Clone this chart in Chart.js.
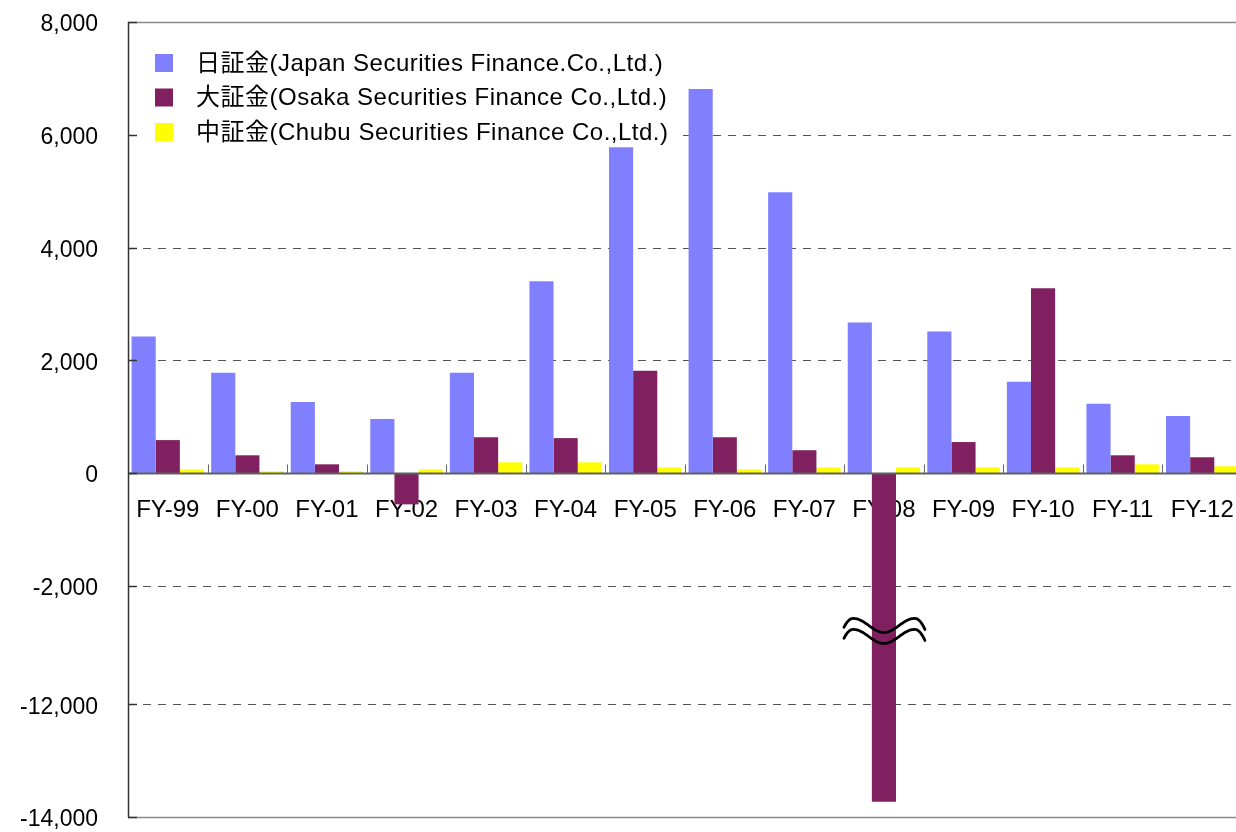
<!DOCTYPE html>
<html>
<head>
<meta charset="utf-8">
<script src="https://cdn.jsdelivr.net/npm/chart.js@4.4.1/dist/chart.umd.min.js"></script>
<style>
  html, body { margin: 0; padding: 0; background: #fff; overflow: hidden; }
  #wrap { width: 1236px; height: 832px; overflow: hidden; }
</style>
</head>
<body>
<div id="wrap"><canvas id="chart" width="1250" height="832"></canvas></div>
<script>
const categories = ['FY-99', 'FY-00', 'FY-01', 'FY-02', 'FY-03', 'FY-04', 'FY-05',
                    'FY-06', 'FY-07', 'FY-08', 'FY-09', 'FY-10', 'FY-11', 'FY-12'];
const seriesNames = [
    '日証金(Japan Securities Finance.Co.,Ltd.)',
    '大証金(Osaka Securities Finance Co.,Ltd.)',
    '中証金(Chubu Securities Finance Co.,Ltd.)'
];
const japanValues = [2420, 1780, 1260, 960, 1780, 3400, 5780, 6810, 4980, 2670, 2510, 1620, 1230, 1010];
const osakaValues = [585, 315, 155, -555, 635, 620, 1815, 635, 405, -13730, 550, 3280, 315, 280];
const chubuValues = [65, 30, 30, 65, 190, 190, 100, 65, 100, 100, 100, 100, 155, 120];
const seriesColors = ['#8080FF', '#802060', '#FFFF00'];
const yTickValues = [8000, 6000, 4000, 2000, 0, -2000, -12000, -14000];

// broken axis: everything below BREAK_AT is pulled up by BREAK_SHIFT
const BREAK_AT = -3000;
const BREAK_SHIFT = 7900;
const BREAK_MARK = -2800; // axis value where the wavy break sign sits
const toAxis = v => v < BREAK_AT ? v + BREAK_SHIFT : v;
const fromAxis = v => v < BREAK_AT ? v - BREAK_SHIFT : v;

const FONT = '"Liberation Sans", Arial, "Noto Sans CJK JP", sans-serif';

// gridlines, frame, legend and the break sign, drawn Excel-style
const excelFrame = {
    id: 'excelFrame',
    beforeDatasetsDraw(chart) {
        const {ctx, chartArea: area, scales: {y}} = chart;
        ctx.save();
        y.ticks.forEach(t => {
            const py = Math.round(y.getPixelForValue(t.value)) + 0.5;
            if (t.value === y.max || t.value === y.min) {
                ctx.strokeStyle = '#8a8a8a';
                ctx.lineWidth = 1.5;
                ctx.setLineDash([]);
            } else if (t.value === 0) {
                return;
            } else {
                ctx.strokeStyle = '#555';
                ctx.lineWidth = 1;
                ctx.setLineDash([8, 7]);
            }
            ctx.beginPath();
            ctx.moveTo(area.left, py);
            ctx.lineTo(area.right, py);
            ctx.stroke();
        });
        ctx.setLineDash([]);

        // legend box inside the plot
        const lx = area.left + 27, ly = area.top + 41;
        ctx.fillStyle = '#fff';
        ctx.fillRect(area.left + 10, area.top + 18, 542, 104);
        ctx.font = '24px ' + FONT;
        ctx.textBaseline = 'middle';
        ctx.letterSpacing = '0.5px';
        chart.data.datasets.forEach((ds, i) => {
            const cy = ly + i * 34.5;
            ctx.fillStyle = ds.backgroundColor;
            ctx.fillRect(lx, cy - 9, 18, 18);
            ctx.fillStyle = '#000';
            ctx.fillText(ds.label, lx + 41, cy + 1);
        });
        ctx.letterSpacing = '0px';
        ctx.restore();
    },
    afterDatasetsDraw(chart) {
        const {ctx, chartArea: area, scales: {x, y}} = chart;
        ctx.save();
        const zero = Math.round(y.getPixelForValue(0)) + 0.5;

        // category axis line at zero with small ticks pointing up
        ctx.strokeStyle = '#666';
        ctx.lineWidth = 1;
        const half = (x.getPixelForValue(1) - x.getPixelForValue(0)) / 2;
        categories.forEach((c, i) => {
            const px = Math.round(x.getPixelForValue(i) + half) + 0.5;
            ctx.beginPath();
            ctx.moveTo(px, zero);
            ctx.lineTo(px, zero - 9);
            ctx.stroke();
        });
        ctx.strokeStyle = '#606060';
        ctx.lineWidth = 2;
        ctx.beginPath();
        ctx.moveTo(area.left, zero);
        ctx.lineTo(area.right, zero);
        ctx.stroke();

        // value axis with inside ticks
        ctx.strokeStyle = '#333';
        ctx.lineWidth = 1.5;
        ctx.beginPath();
        ctx.moveTo(area.left + 0.5, area.top);
        ctx.lineTo(area.left + 0.5, area.bottom);
        ctx.stroke();
        y.ticks.forEach(t => {
            const py = Math.round(y.getPixelForValue(t.value)) + 0.5;
            ctx.beginPath();
            ctx.moveTo(area.left, py);
            ctx.lineTo(area.left + 9, py);
            ctx.stroke();
        });

        // wavy break sign over the broken bar, ends hooked downwards
        const idx = osakaValues.findIndex(v => v < BREAK_AT);
        if (idx >= 0) {
            const bar = chart.getDatasetMeta(1).data[idx];
            const cx = bar.x;
            const ym = y.getPixelForValue(BREAK_MARK);
            ctx.strokeStyle = '#000';
            ctx.lineWidth = 2.8;
            ctx.lineCap = 'round';
            [-5.5, 5.5].forEach(off => {
                ctx.beginPath();
                for (let dx = -40; dx <= 41; dx++) {
                    const ad = Math.abs(dx);
                    let py = ym + off + 7 * Math.cos(2 * Math.PI * dx / 61);
                    if (ad > 31) py = ym + off - 7 + (ad - 31) * (ad - 31) * 0.11;
                    if (dx === -40) ctx.moveTo(cx + dx, py);
                    else ctx.lineTo(cx + dx, py);
                }
                ctx.stroke();
            });
        }
        ctx.restore();
    }
};

new Chart(document.getElementById('chart'), {
    type: 'bar',
    data: {
        labels: categories,
        datasets: [
            { label: seriesNames[0], data: japanValues.map(toAxis), backgroundColor: seriesColors[0] },
            { label: seriesNames[1], data: osakaValues.map(toAxis), backgroundColor: seriesColors[1] },
            { label: seriesNames[2], data: chubuValues.map(toAxis), backgroundColor: seriesColors[2] }
        ]
    },
    options: {
        responsive: false,
        animation: false,
        devicePixelRatio: 1,
        layout: { padding: { left: 0, top: 22, right: 8, bottom: 15 } },
        datasets: {
            bar: { categoryPercentage: 0.91, barPercentage: 1.0, borderWidth: 0 }
        },
        plugins: {
            legend: { display: false },
            tooltip: { enabled: false }
        },
        scales: {
            x: {
                position: { y: 0 },
                grid: { display: false, drawTicks: false },
                border: { display: false },
                afterFit(scale) {
                    scale.paddingLeft = 0;
                    scale.paddingRight = 0;
                },
                ticks: {
                    color: '#000',
                    font: { family: FONT, size: 24 },
                    padding: 23,
                    maxRotation: 0,
                    autoSkip: false
                }
            },
            y: {
                min: toAxis(-14000),
                max: 8000,
                grid: { display: false, drawTicks: false },
                border: { display: false },
                afterBuildTicks(scale) {
                    scale.ticks = yTickValues.map(v => ({ value: toAxis(v) }));
                },
                afterFit(scale) {
                    scale.width = 128;
                    scale.paddingTop = 0;
                    scale.paddingBottom = 0;
                },
                ticks: {
                    color: '#000',
                    font: { family: FONT, size: 23 },
                    padding: 30,
                    labelOffset: 3,
                    callback: v => fromAxis(v).toLocaleString('en-US')
                }
            }
        }
    },
    plugins: [excelFrame]
});
</script>
</body>
</html>
